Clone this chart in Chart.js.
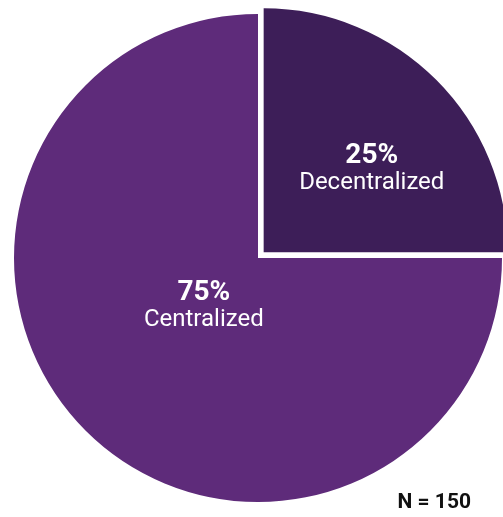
<!DOCTYPE html>
<html>
<head>
<meta charset="utf-8">
<script src="https://cdn.jsdelivr.net/npm/chart.js@4/dist/chart.umd.min.js"></script>
<style>
  html, body { margin: 0; padding: 0; background: #fff; }
  #wrap { position: relative; width: 503px; height: 517px; }
</style>
</head>
<body>
<div id="wrap"><canvas id="pie"></canvas></div>
<script>
// Survey split
const categories = ["Decentralized", "Centralized"];
const shares     = [25, 75];
const sliceColors = ["#3d1e58", "#5e2b7a"];
const sampleNote = "N = 150";

// Label anchors, as fractions of the radius from each slice's corner
const labelSpots = [
    { dx: 0.443, dy: -0.365 },
    { dx: -0.222, dy: 0.172 }
];

const sliceLabels = {
    id: "sliceLabels",
    afterDraw: function(chart) {
        const ctx = chart.ctx;
        const meta = chart.getDatasetMeta(0);
        ctx.save();
        ctx.fillStyle = "#ffffff";
        ctx.textAlign = "center";
        ctx.textBaseline = "alphabetic";
        meta.data.forEach(function(arc, i) {
            const p = arc.getProps(["x", "y", "startAngle", "endAngle", "outerRadius"], true);
            const mid = (p.startAngle + p.endAngle) / 2;
            const circ = p.endAngle - p.startAngle;
            // same shift the arc element applies for its offset
            const off = (arc.options.offset || 0) / 4;
            const fix = 1 - Math.sin(Math.min(Math.PI, circ));
            const shift = off + off * fix;
            const cx = p.x + Math.cos(mid) * shift;
            const cy = p.y + Math.sin(mid) * shift;
            const lx = cx + labelSpots[i].dx * p.outerRadius;
            const ly = cy + labelSpots[i].dy * p.outerRadius;
            ctx.font = "bold 28px Roboto";
            ctx.fillText(shares[i] + "%", lx, ly);
            ctx.font = "24px Roboto";
            ctx.fillText(categories[i], lx, ly + 26);
        });
        ctx.fillStyle = "#111111";
        ctx.textAlign = "right";
        ctx.font = "bold 21px Roboto";
        ctx.fillText(sampleNote, 471, 508);
        ctx.restore();
    }
};

new Chart(document.getElementById("pie"), {
    type: "pie",
    data: {
        labels: categories,
        datasets: [{
            data: shares,
            backgroundColor: sliceColors,
            borderWidth: 0,
            offset: [32, 0],
            radius: 244
        }]
    },
    options: {
        responsive: true,
        maintainAspectRatio: false,
        animation: false,
        events: [],
        layout: { padding: { left: 13, right: 0, top: 0, bottom: 1 } },
        plugins: {
            legend: { display: false },
            tooltip: { enabled: false }
        }
    },
    plugins: [sliceLabels]
});
</script>
</body>
</html>
